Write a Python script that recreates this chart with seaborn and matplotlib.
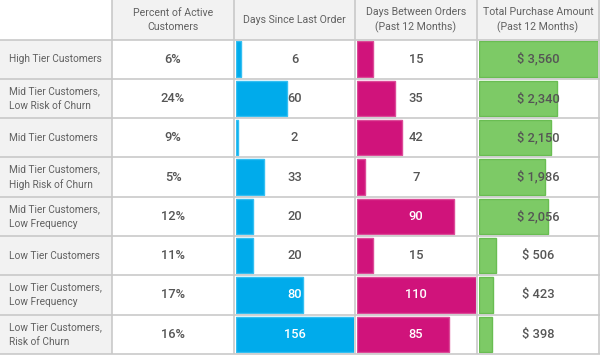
import matplotlib
matplotlib.use("Agg")
import matplotlib.pyplot as plt
import seaborn as sns
from matplotlib.patches import Rectangle

# table data
segments = ["High Tier Customers",
            "Mid Tier Customers,\nLow Risk of Churn",
            "Mid Tier Customers",
            "Mid Tier Customers,\nHigh Risk of Churn",
            "Mid Tier Customers,\nLow Frequency",
            "Low Tier Customers",
            "Low Tier Customers,\nLow Frequency",
            "Low Tier Customers,\nRisk of Churn"]
pct_active = [6, 24, 9, 5, 12, 11, 17, 16]
days_since = [6, 60, 2, 33, 20, 20, 80, 156]
days_between = [15, 35, 42, 7, 90, 15, 110, 85]
purchase = [3560, 2340, 2150, 1986, 2056, 506, 423, 398]
headers = ["Percent of Active\nCustomers",
           "Days Since Last Order",
           "Days Between Orders\n(Past 12 Months)",
           "Total Purchase Amount\n(Past 12 Months)"]

sns.set_theme(style="white")
plt.rcParams['font.family'] = ['Roboto', 'DejaVu Sans']

W, H = 600, 355
col_edges = [0, 112, 234, 355, 477, 599]
head_h = 39.5
row_h = 39.3
n = len(segments)
bottom = head_h + n * row_h
grey_bg = "#f2f2f2"
line_c = "#c9c9c9"
txt_c = "#616161"
val_c = "#555555"

fig = plt.figure(figsize=(6, 3.55), dpi=100)

# background layer
bg = fig.add_axes([0, 0, 1, 1], zorder=0)
bg.set_xlim(0, W)
bg.set_ylim(H, 0)
bg.axis("off")
bg.add_patch(Rectangle((col_edges[1], 0), W - col_edges[1], head_h, color=grey_bg, lw=0))
bg.add_patch(Rectangle((0, head_h), col_edges[1], bottom - head_h, color=grey_bg, lw=0))

# bar columns: (values, scale max, colour, edge, white text when covered)
bar_cols = [
    (days_since, 140, "#00abeb", "#33bff2", True),
    (days_between, 110, "#d0137b", "#dc4a98", True),
    (purchase, 3560, "#7dca66", "#69bd52", False),
]
for k, (vals, vmax, col, edge, flip) in enumerate(bar_cols):
    x0, x1 = col_edges[k + 2], col_edges[k + 3]
    ax = fig.add_axes([(x0 + 2) / W, 1 - bottom / H, (x1 - x0 - 3) / W, (bottom - head_h) / H],
                      zorder=1)
    sns.barplot(x=vals, y=segments, orient="h", color=col, width=0.9,
                edgecolor=edge, linewidth=1, saturation=1, ax=ax)
    ax.set_xlim(0, vmax)
    ax.set_ylim(n - 0.5, -0.5)
    ax.axis("off")

# overlay: lines and texts
ov = fig.add_axes([0, 0, 1, 1], zorder=3)
ov.set_xlim(0, W)
ov.set_ylim(H, 0)
ov.axis("off")
ov.patch.set_alpha(0)

for i in range(n + 1):
    y = head_h + i * row_h
    ov.plot([0, W], [y, y], color=line_c, lw=1.2, solid_capstyle="butt")
for x in col_edges[1:]:
    ov.plot([x, x], [0, bottom], color=line_c, lw=1.2, solid_capstyle="butt")

for j, h in enumerate(headers):
    cx = (col_edges[j + 1] + col_edges[j + 2]) / 2
    ov.text(cx, head_h / 2, h, ha="center", va="center", fontsize=7.6,
            color=txt_c, linespacing=1.5)

for i, seg in enumerate(segments):
    cy = head_h + (i + 0.5) * row_h
    ov.text(9, cy, seg, ha="left", va="center", fontsize=7.3, color=txt_c, linespacing=1.6)
    cx = (col_edges[1] + col_edges[2]) / 2
    ov.text(cx, cy, f"{pct_active[i]}%", ha="center", va="center", fontsize=9.3,
            fontweight="medium", color=val_c)
    for k, (vals, vmax, col, edge, flip) in enumerate(bar_cols):
        x0, x1 = col_edges[k + 2], col_edges[k + 3]
        cx = (x0 + x1) / 2
        covered = vals[i] / vmax * (x1 - x0 - 3) > (x1 - x0) / 2
        c = "white" if (flip and covered) else val_c
        label = f"$ {vals[i]:,}" if k == 2 else f"{vals[i]}"
        ov.text(cx, cy, label, ha="center", va="center", fontsize=9.3,
                fontweight="medium", color=c)

fig.savefig("out.png", dpi=100)
